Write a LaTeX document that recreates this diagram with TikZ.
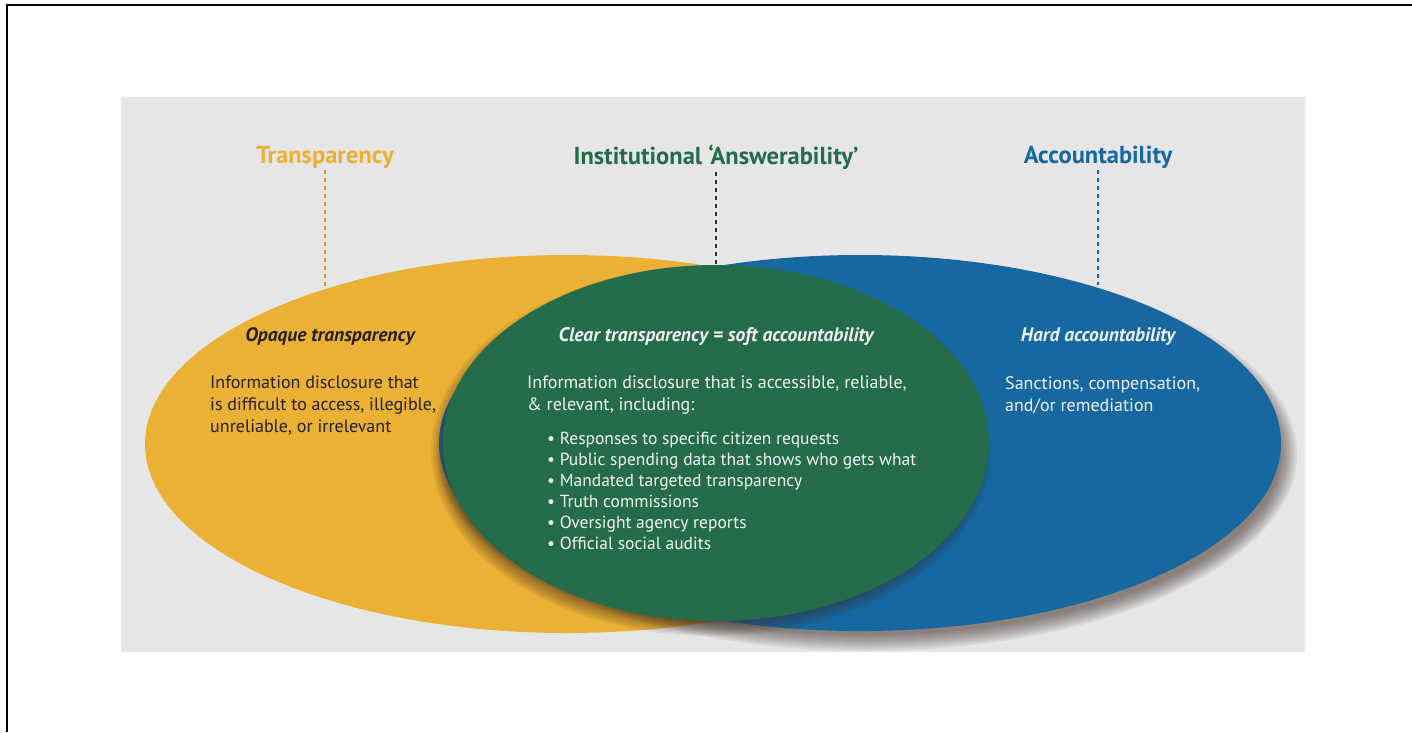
\documentclass[tikz,border=0pt]{standalone}
\usepackage{fontspec}
\setmainfont{PT Sans}

\definecolor{panelgray}{HTML}{E6E6E7}
\definecolor{transyellow}{HTML}{EBB134}
\definecolor{answergreen}{HTML}{256C4B}
\definecolor{accblue}{HTML}{1767A0}
\definecolor{darktext}{HTML}{231F20}
\definecolor{lighttext}{HTML}{F2F2F2}
\definecolor{shadowbrown}{HTML}{3B2B22}

\begin{document}
\begin{tikzpicture}[x=1pt, y=-1pt,
    title/.style={font=\fontsize{24.5}{28}\selectfont\bfseries, inner sep=2pt},
    head/.style={font=\fontsize{19.5}{22}\selectfont\bfseries\itshape, inner sep=0pt},
    body/.style={font=\fontsize{18}{22}\selectfont, align=left, anchor=north west, inner sep=0pt},
    listing/.style={font=\fontsize{17.5}{21}\selectfont, align=left, anchor=north west, inner sep=0pt},
    guide/.style={line width=1.2pt, dash pattern=on 4pt off 4pt},
    shade/.style={fill=shadowbrown, opacity=0.08}
]

\useasboundingbox (0,0) rectangle (1412,732);
\fill[white] (0,0) rectangle (1412,732);
\draw[line width=1.5pt] (7,732) -- (7,5) -- (1412,5);
\fill[panelgray] (121,97) rectangle (1305,652);

% the three ellipses, each with a soft shadow
\fill[transyellow] (567,444) ellipse [x radius=422, y radius=189];
\foreach \r in {0,2,...,16}
  \fill[shade] (867,454) ellipse [x radius=414+\r, y radius=181+\r];
\fill[accblue] (860,443) ellipse [x radius=421, y radius=188];
\foreach \r in {0,2,...,14}
  \fill[shade] (711,451) ellipse [x radius=266+\r, y radius=171+\r];
\fill[answergreen] (716,443) ellipse [x radius=273, y radius=178];

% titles
\node[title, text=transyellow] (tTrans) at (325,157) {Transparency};
\node[title, text=answergreen] (tAns) at (716,157) {Institutional ‘Answerability’};
\node[title, text=accblue] (tAcc) at (1098,157) {Accountability};

\coordinate (cTrans) at (325,287);
\coordinate (cAns) at (716,265);
\coordinate (cAcc) at (1098,285);

\draw[guide, transyellow!90!black] (tTrans.south) -- (cTrans);
\draw[guide, darktext!70!accblue] (tAns.south) -- (cAns);
\draw[guide, accblue] (tAcc.south) -- (cAcc);

% left part
\node[head, text=darktext] (hOpaque) at (330,337) {Opaque transparency};
\node[body, text=darktext] (bOpaque) at (210,376) {Information disclosure that\\
    is difficult to access, illegible,\\
    unreliable, or irrelevant};

% middle part
\node[head, text=lighttext] (hClear) at (716,337) {Clear transparency = soft accountability};
\node[body, text=lighttext] (bClear) at (527,376) {Information disclosure that is accessible, reliable,\\
    \& relevant, including:};
\node[listing, text=lighttext] (lClear) at (547,432) {\textbullet\ Responses to specific citizen requests\\
    \textbullet\ Public spending data that shows who gets what\\
    \textbullet\ Mandated targeted transparency\\
    \textbullet\ Truth commissions\\
    \textbullet\ Oversight agency reports\\
    \textbullet\ Official social audits};

% right part
\node[head, text=lighttext] (hHard) at (1098,337) {Hard accountability};
\node[body, text=lighttext] (bHard) at (1005,376) {Sanctions, compensation,\\
    and/or remediation};

\end{tikzpicture}
\end{document}
